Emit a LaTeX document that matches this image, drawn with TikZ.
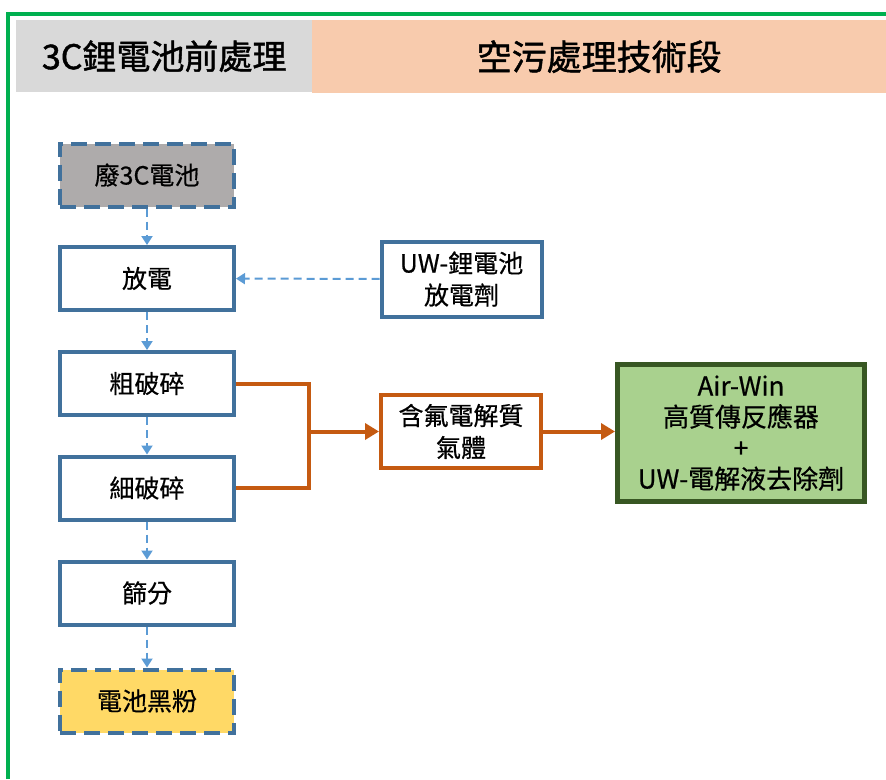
\documentclass[tikz,border=0pt]{standalone}
\usepackage{fontspec}
\setmainfont{Noto Sans CJK TC}
\newfontfamily\medfont{Noto Sans CJK TC}[FakeBold=0.6]
\newfontfamily\hdfont{Noto Sans CJK TC}[FakeBold=1.3]
\usetikzlibrary{arrows.meta}
\definecolor{frameg}{HTML}{00B050}
\definecolor{hgray}{HTML}{D9D9D9}
\definecolor{hpeach}{HTML}{F8CBAD}
\definecolor{bborder}{HTML}{41719C}
\definecolor{barrow}{HTML}{5B9BD5}
\definecolor{boxgray}{HTML}{AEABAB}
\definecolor{boxyel}{HTML}{FFD966}
\definecolor{orng}{HTML}{C55A11}
\definecolor{gfill}{HTML}{A9D18E}
\definecolor{gborder}{HTML}{385723}
\begin{document}
\begin{tikzpicture}[x=1pt,y=-1pt,
  stepbox/.style={draw=bborder,line width=4pt,fill=white,minimum width=174pt,minimum height=63pt,inner sep=0pt,font=\medfont\fontsize{25}{32}\selectfont,align=center},
  dashbox/.style={stepbox,dash pattern=on 16pt off 8pt},
  bluearrow/.style={draw=barrow,line width=2pt,dash pattern=on 8pt off 5pt,-{Triangle[width=11pt,length=9pt]}},
  orline/.style={draw=orng,line width=4pt},
  orarrow/.style={orline,-{Triangle[width=16pt,length=14pt]}}
]
\useasboundingbox (0,0) rectangle (886,779);
\fill[white] (0,0) rectangle (886,779);
% frame
\draw[frameg,line width=4pt] (8,779) -- (8,14) -- (886,14);
% header
\node[fill=hgray,minimum width=296pt,minimum height=72pt,inner sep=0pt,anchor=north west,font=\hdfont\fontsize{34}{38}\selectfont] (h1) at (16,20) {3C鋰電池前處理};
\node[fill=hpeach,minimum width=574pt,minimum height=73pt,inner sep=0pt,anchor=north west,font=\hdfont\fontsize{35}{40}\selectfont] (h2) at (312,20) {空污處理技術段};
% boxes
\node[dashbox,fill=boxgray] (waste) at (147,175) {廢3C電池};
\node[stepbox] (dis) at (147,278.5) {放電};
\node[stepbox] (coarse) at (147,383.5) {粗破碎};
\node[stepbox] (fine) at (147,488) {細破碎};
\node[stepbox] (sieve) at (147,593) {篩分};
\node[dashbox,fill=boxyel] (black) at (147,701) {電池黑粉};
\node[stepbox,minimum width=160pt,minimum height=75pt] (agent) at (461.5,279) {UW-鋰電池\\放電劑};
\node[stepbox,draw=orng,minimum width=160pt,minimum height=73pt] (gas) at (461,431.5) {含氟電解質\\氣體};
\node[stepbox,draw=gborder,fill=gfill,line width=5pt,minimum width=247pt,minimum height=137pt,font=\medfont\fontsize{26}{31}\selectfont] (airwin) at (741,433) {Air-Win\\高質傳反應器\\+\\UW-電解液去除劑};
% arrows
\draw[bluearrow] (waste) -- (dis);
\draw[bluearrow] (dis) -- (coarse);
\draw[bluearrow] (coarse) -- (fine);
\draw[bluearrow] (fine) -- (sieve);
\draw[bluearrow] (sieve) -- (black);
\draw[bluearrow] (agent) -- (dis);
\coordinate (j) at (309,431.5);
\draw[orline] (coarse.east) -- (309,383.5) -- (309,488) -- (fine.east);
\draw[orarrow] (j) -- (gas.west);
\draw[orarrow] (gas.east) -- (gas.east -| airwin.west);
\end{tikzpicture}
\end{document}
